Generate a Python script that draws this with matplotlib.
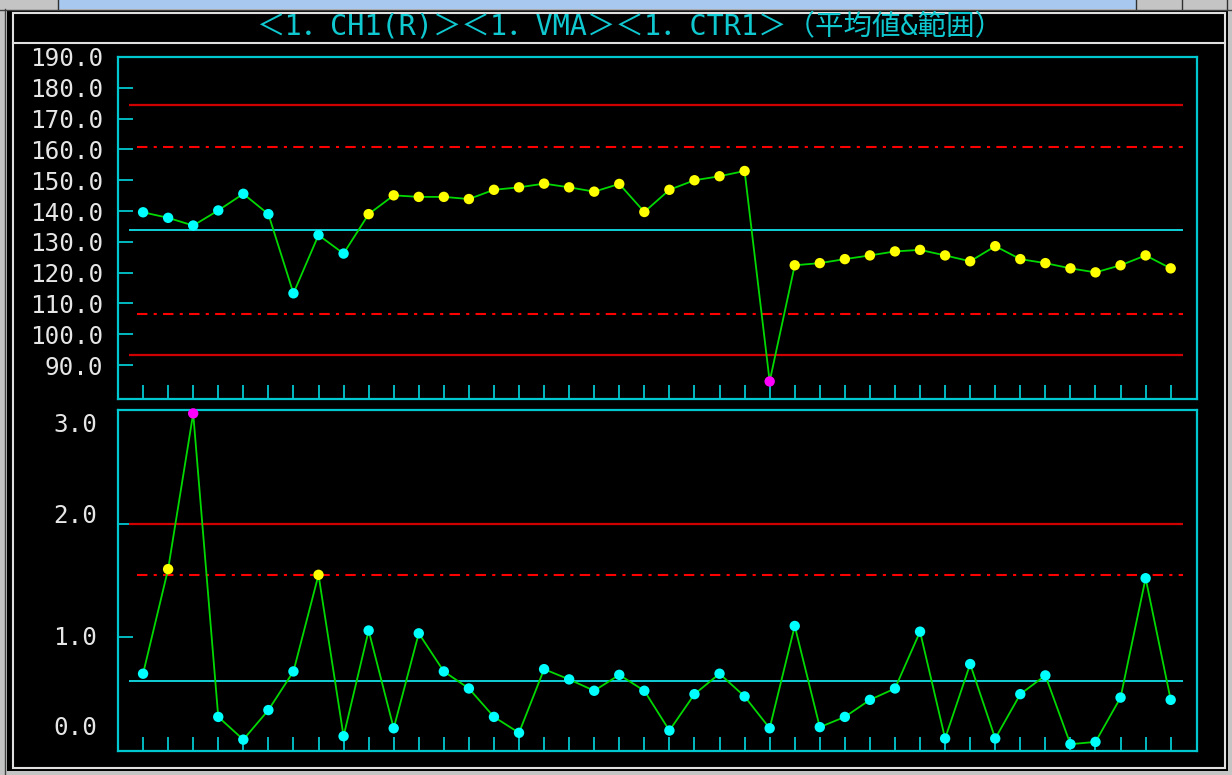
import numpy as np
import matplotlib
matplotlib.use("Agg")
import matplotlib.pyplot as plt
from matplotlib.patches import Rectangle

plt.rcParams['font.family'] = ['DejaVu Sans Mono', 'Noto Sans CJK JP']

# ---- data: X-bar (average) chart ----
sample_no = np.arange(1, 43)
xbar = [139.6, 137.8, 135.3, 140.2, 145.6, 139.0, 113.3, 132.2, 126.2, 139.0,
        145.1, 144.6, 144.6, 143.9, 146.9, 147.7, 148.9, 147.7, 146.3, 148.8,
        139.7, 146.9, 150.0, 151.3, 153.0, 84.7, 122.4, 123.1, 124.4, 125.6,
        126.9, 127.4, 125.6, 123.7, 128.6, 124.4, 123.1, 121.4, 120.1, 122.4,
        125.6, 121.4]
# point state: n = normal, r = run, x = out of limits
xbar_state = list("nnnnnnnnnrrrrrrrrrrrrrrrrxrrrrrrrrrrrrrrrr")
xbar_cl = 134.0
xbar_ucl = 174.5
xbar_lcl = 93.2
xbar_u2 = 160.9
xbar_l2 = 106.6
xbar_ticks = [90, 100, 110, 120, 130, 140, 150, 160, 170, 180, 190]
xbar_ticklabels = ["90.0", "100.0", "110.0", "120.0", "130.0", "140.0",
                   "150.0", "160.0", "170.0", "180.0", "190.0"]

# ---- data: R (range) chart ----
rng = [0.68, 1.60, 2.97, 0.30, 0.10, 0.36, 0.70, 1.55, 0.13, 1.06,
       0.20, 1.035, 0.70, 0.55, 0.30, 0.16, 0.72, 0.63, 0.53, 0.67,
       0.53, 0.18, 0.50, 0.68, 0.48, 0.20, 1.10, 0.21, 0.30, 0.45,
       0.55, 1.05, 0.11, 0.765, 0.11, 0.50, 0.665, 0.06, 0.08, 0.47,
       1.52, 0.45]
rng_state = list("nrxnnnnrnnnnnnnnnnnnnnnnnnnnnnnnnnnnnnnnnn")
rng_cl = 0.615
rng_ucl = 2.0
rng_u2 = 1.548
rng_ticks = [1, 2]
rng_label_pos = [2.889, 2.092, 1.020, 0.228]
rng_ticklabels = ["3.0", "2.0", "1.0", "0.0"]

title = "＜1．CH1(R)＞＜1．VMA＞＜1．CTR1＞（平均値&範囲）"

state_color = {"n": "#00ffff", "r": "#ffff00", "x": "#ff00ff"}
frame_col = "#00c8d0"
text_col = "#e6e6e6"
W, H = 1232, 775

fig = plt.figure(figsize=(W / 100, H / 100), dpi=100, facecolor="#c4c4c4")

# window chrome drawn in pixel coordinates
bg = fig.add_axes([0, 0, 1, 1], zorder=0)
bg.set_xlim(0, W)
bg.set_ylim(H, 0)
bg.axis("off")
bg.add_patch(Rectangle((58, 0), 1078, 9, color="#a8c8f0", lw=0))
for xd in [58, 1136, 1182, 1227]:
    bg.plot([xd, xd], [0, 9], color="#303030", lw=1)
bg.plot([0, W], [9.5, 9.5], color="#404040", lw=1)
bg.plot([5, 5], [9, H], color="#404040", lw=1)
bg.add_patch(Rectangle((7, 10), 1221, 761, color="black", lw=0))
bg.add_patch(Rectangle((12.5, 12.5), 1212.5, 755.5, fill=False,
                       edgecolor="#e0e0e0", lw=1.5))
bg.plot([12.5, 1225], [42.5, 42.5], color="#e0e0e0", lw=1.5)
bg.text(630, 27, title, color="#10c8d0", fontsize=20.5, ha="center", va="center")


def style_axes(ax):
    ax.set_facecolor("black")
    for sp in ax.spines.values():
        sp.set_color(frame_col)
        sp.set_linewidth(1.6)
    ax.set_xlim(0, 43.05)
    ax.set_xticks(sample_no)
    ax.tick_params(axis="x", direction="in", length=10, width=1.3,
                   color=frame_col, labelbottom=False)
    ax.tick_params(axis="y", which="both", direction="in", width=1.3,
                   color=frame_col, labelcolor=text_col, labelsize=17.5, pad=11)


def draw_limits(ax, cl, ucl, u2, lcl=None, l2=None):
    ax.hlines(ucl, 0.44, 42.5, color="#d00000", lw=1.6, zorder=2)
    if lcl is not None:
        ax.hlines(lcl, 0.44, 42.5, color="#d00000", lw=1.6, zorder=2)
    for y in [u2] + ([l2] if l2 is not None else []):
        ax.hlines(y, 0.74, 42.5, color="#ff0000", lw=1.5, zorder=2,
                  linestyles=(0, (5, 3, 1.5, 3)))
    ax.hlines(cl, 0.44, 42.5, color="#10d0d8", lw=1.4, zorder=2)


def draw_series(ax, vals, states):
    ax.plot(sample_no, vals, color="#00d800", lw=1.3, zorder=3)
    cols = [state_color[s] for s in states]
    ax.scatter(sample_no, vals, s=56, c=cols, lw=0, zorder=4, clip_on=False)


# X-bar chart
ax1 = fig.add_axes([118 / W, 1 - 399 / H, 1079 / W, 342 / H], zorder=1)
style_axes(ax1)
ax1.set_ylim(79, 190)
ax1.set_yticks(xbar_ticks)
ax1.set_yticklabels(xbar_ticklabels)
ax1.tick_params(axis="y", length=11)
draw_limits(ax1, xbar_cl, xbar_ucl, xbar_u2, xbar_lcl, xbar_l2)
draw_series(ax1, xbar, xbar_state)

# R chart
ax2 = fig.add_axes([118 / W, 1 - 751 / H, 1079 / W, 341 / H], zorder=1)
style_axes(ax2)
ax2.set_ylim(0, 3)
ax2.set_yticks(rng_label_pos)
ax2.set_yticklabels(rng_ticklabels)
ax2.tick_params(axis="y", which="major", length=0, pad=15)
ax2.set_yticks(rng_ticks, minor=True)
ax2.tick_params(axis="y", which="minor", length=11)
draw_limits(ax2, rng_cl, rng_ucl, rng_u2)
draw_series(ax2, rng, rng_state)

fig.savefig("out.png", dpi=100, facecolor=fig.get_facecolor())
